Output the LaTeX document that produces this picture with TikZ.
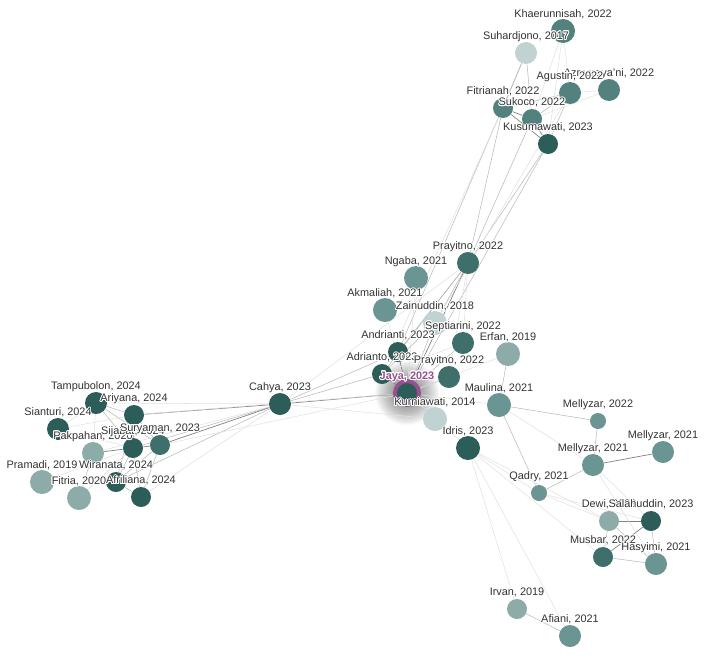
\documentclass[tikz,border=0pt]{standalone}
\usepackage{fontspec}
\setmainfont{Liberation Sans}
\usepackage{contour}
\contourlength{0.5pt}
\usetikzlibrary{backgrounds}
\pgfdeclarelayer{front}
\pgfsetlayers{background,main,front}
\definecolor{tealA}{HTML}{2D5D59}
\definecolor{tealB}{HTML}{3E6F6B}
\definecolor{tealC}{HTML}{52817E}
\definecolor{tealM}{HTML}{6A9592}
\definecolor{tealD}{HTML}{8DABA9}
\definecolor{tealE}{HTML}{C0D3D2}
\definecolor{ringpurple}{HTML}{94508F}
\definecolor{labgrey}{HTML}{333333}

\begin{document}
\begin{tikzpicture}[x=0.02cm, y=-0.02cm,
    paper/.style={circle, inner sep=0pt},
    lab/.style={font=\fontsize{6.2}{7}\selectfont, text=labgrey, inner sep=0pt},
    cite/.style={draw=black!28, line width=0.3pt},
    strong/.style={draw=black!50, line width=0.4pt},
    faint/.style={draw=black!12, line width=0.3pt}]
    \useasboundingbox (0,0) rectangle (720,656);

    % papers and their labels
    \foreach \id/\x/\y/\sz/\col/\txt in {
        khae/563/31/24/tealC/{Khaerunnisah, 2022},
        suha/526/53/22/tealE/{Suhardjono, 2017},
        azma/609/90/22/tealC/{Azmaraya'ni, 2022},
        agus/570/93/22/tealC/{Agustin, 2022},
        fitr/503/108/20/tealC/{Fitrianah, 2022},
        suko/532/119/20/tealC/{Sukoco, 2022},
        kusu/548/144/20/tealA/{Kusumawati, 2023},
        pray/468/263/22/tealB/{Prayitno, 2022},
        ngab/416/278/24/tealM/{Ngaba, 2021},
        akma/385/310/24/tealM/{Akmaliah, 2021},
        zain/435/323/24/tealE/{Zainuddin, 2018},
        sept/463/343/22/tealB/{Septiarini, 2022},
        erfa/508/354/24/tealD/{Erfan, 2019},
        andr/398/352/20/tealA/{Andrianti, 2023},
        adri/382/374/20/tealA/{Adrianto, 2023},
        prat/449/377/22/tealB/{Prayitno, 2022},
        kurn/435/419/24/tealE/{Kurniawati, 2014},
        maul/499/405/24/tealM/{Maulina, 2021},
        idri/468/448/24/tealA/{Idris, 2023},
        cahy/280/404/22/tealA/{Cahya, 2023},
        tamp/96/403/22/tealA/{Tampubolon, 2024},
        ariy/134/415/20/tealA/{Ariyana, 2024},
        sian/58/429/22/tealA/{Sianturi, 2024},
        pakp/93/453/22/tealD/{Pakpahan, 2020},
        sija/133/448/20/tealA/{Sijabat, 2024},
        sury/160/445/20/tealB/{Suryaman, 2023},
        pram/42/482/24/tealD/{Pramadi, 2019},
        wira/116/482/20/tealA/{Wiranata, 2024},
        fiti/79/498/24/tealD/{Fitria, 2020},
        afri/141/497/20/tealA/{Afriliana, 2024},
        mlza/598/421/16/tealM/{Mellyzar, 2022},
        mlzb/593/465/22/tealM/{Mellyzar, 2021},
        mlzc/663/452/22/tealM/{Mellyzar, 2021},
        qadr/539/493/16/tealM/{Qadry, 2021},
        dewi/609/521/20/tealD/{Dewi, 2022},
        sala/651/521/20/tealA/{Salahuddin, 2023},
        musb/603/557/20/tealB/{Musbar, 2022},
        hasy/656/564/22/tealM/{Hasyimi, 2021},
        irva/517/609/20/tealD/{Irvan, 2019},
        afia/570/636/22/tealM/{Afiani, 2021}}
    {
        \node[paper, fill=\col, minimum size=\sz*0.02cm] (\id) at (\x,\y) {};
        \begin{pgfonlayer}{front}
            \node[lab] (\id-l) at (\x,\y-16) {\contour{white}{\txt}};
        \end{pgfonlayer}
    }

    % the selected paper
    \node[paper, fill=tealA, draw=ringpurple, line width=2.2pt, minimum size=24*0.02cm] (jaya) at (407,393) {};
    \begin{pgfonlayer}{front}
        \node[lab, text=ringpurple, font=\fontsize{6.2}{7}\selectfont\bfseries] (jaya-l) at (407,377) {\contour{white}{Jaya, 2023}};
    \end{pgfonlayer}

    \begin{scope}[on background layer]
        \foreach \r in {12,...,32}
            \fill[black, opacity=0.022] (jaya) circle[radius=\r];
        % citations
        \foreach \a/\b in {suha/fitr, suha/suko, suko/agus, agus/kusu, agus/fitr,
            fitr/pray, suko/pray, kusu/pray, kusu/jaya, suha/andr,
            pray/andr, pray/adri, pray/zain, zain/jaya, zain/adri, prat/jaya,
            sept/jaya, kurn/jaya, cahy/adri, cahy/andr, erfa/maul,
            cahy/sija, cahy/wira, tamp/ariy, tamp/sury, tamp/sija, ariy/sury,
            ariy/wira, sija/wira, sija/afri, sury/afri, sury/wira, pakp/fiti,
            wira/afri, maul/mlza, maul/qadr, mlza/mlzb, mlzb/qadr,
            dewi/musb, dewi/hasy, sala/hasy, musb/hasy, irva/afia}
            \draw[cite] (\a) -- (\b);
        \foreach \a/\b in {fitr/suko, fitr/kusu, suko/kusu, pray/jaya, andr/jaya,
            adri/jaya, cahy/jaya, cahy/ariy, cahy/sury, ariy/sija, sija/sury,
            sija/pakp, mlzb/mlzc, dewi/sala, sala/musb}
            \draw[strong] (\a) -- (\b);
        \foreach \a/\b in {azma/suko, azma/agus, khae/suko, khae/kusu, khae/agus,
            agus/zain, fitr/adri, pray/sept, pray/prat, ngab/jaya, akma/jaya,
            sept/adri, cahy/pray, maul/jaya, idri/jaya, cahy/tamp, cahy/afri,
            cahy/pakp, cahy/kurn, jaya/ariy, jaya/sury, tamp/pakp, pakp/wira,
            sian/sija, sian/ariy, sian/tamp, pram/sija, fiti/sija, maul/mlzb,
            mlzb/sala, mlzb/hasy, qadr/sala, qadr/dewi, idri/qadr, idri/dewi,
            idri/irva, idri/afia, idri/musb, jaya/erfa}
            \draw[faint] (\a) -- (\b);
    \end{scope}
\end{tikzpicture}
\end{document}
